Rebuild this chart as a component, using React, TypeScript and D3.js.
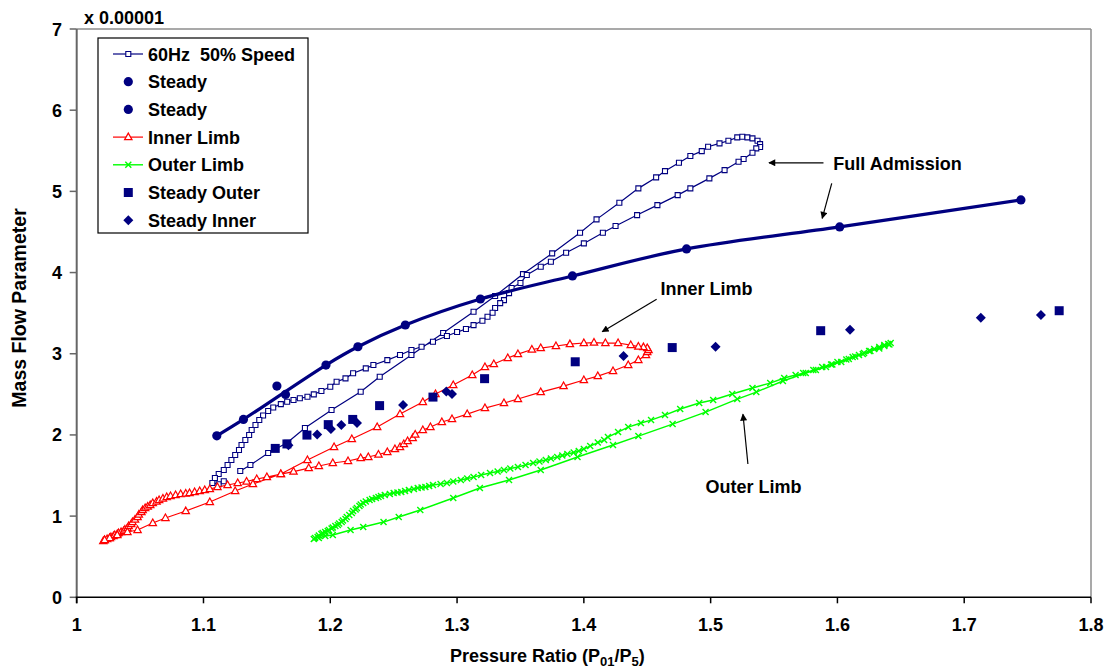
import React from 'react';
import * as d3 from 'd3';

type Pt = [number, number];

// Axis ticks
const xTicks = [1, 1.1, 1.2, 1.3, 1.4, 1.5, 1.6, 1.7, 1.8];
const yTicks = [0, 1, 2, 3, 4, 5, 6, 7];
const xTickLabels = ['1', '1.1', '1.2', '1.3', '1.4', '1.5', '1.6', '1.7', '1.8'];
const yTickLabels = ['0', '1', '2', '3', '4', '5', '6', '7'];

// 60Hz 50% speed pulsating-flow loop (full admission)
const loop60Hz: Pt[] = [
  [1.129, 1.555], [1.137, 1.629], [1.151, 1.777], [1.166, 1.904], [1.18, 2.085], [1.201, 2.307],
  [1.224, 2.532], [1.239, 2.717], [1.264, 2.984], [1.289, 3.255], [1.313, 3.517], [1.33, 3.711],
  [1.352, 3.981], [1.375, 4.236], [1.397, 4.49], [1.41, 4.655], [1.428, 4.86], [1.443, 5.037],
  [1.457, 5.172], [1.464, 5.25], [1.475, 5.352], [1.484, 5.435], [1.493, 5.496], [1.498, 5.549],
  [1.507, 5.591], [1.514, 5.623], [1.521, 5.665], [1.525, 5.672], [1.529, 5.665], [1.533, 5.653],
  [1.537, 5.623], [1.539, 5.582], [1.539, 5.546],
  [1.536, 5.529], [1.533, 5.475], [1.526, 5.398], [1.522, 5.364], [1.511, 5.262], [1.499, 5.16],
  [1.484, 5.037], [1.474, 4.954], [1.458, 4.831], [1.442, 4.708], [1.425, 4.573], [1.415, 4.49],
  [1.4, 4.359], [1.386, 4.244], [1.374, 4.133], [1.366, 4.071], [1.355, 3.969], [1.35, 3.871],
  [1.343, 3.809], [1.341, 3.747], [1.337, 3.661], [1.334, 3.624], [1.33, 3.563], [1.328, 3.505],
  [1.324, 3.456], [1.32, 3.406], [1.313, 3.353], [1.307, 3.304], [1.3, 3.267], [1.292, 3.218],
  [1.281, 3.148], [1.272, 3.086], [1.264, 3.046], [1.255, 2.984], [1.245, 2.922], [1.234, 2.861],
  [1.228, 2.82], [1.218, 2.759], [1.212, 2.697], [1.205, 2.655], [1.2, 2.594], [1.193, 2.541],
  [1.187, 2.5], [1.182, 2.47], [1.176, 2.451], [1.171, 2.43], [1.166, 2.409], [1.161, 2.38],
  [1.155, 2.337], [1.151, 2.294], [1.147, 2.239], [1.144, 2.183], [1.141, 2.122], [1.138, 2.06],
  [1.136, 1.999], [1.133, 1.937], [1.13, 1.876], [1.128, 1.814], [1.125, 1.752], [1.122, 1.691],
  [1.119, 1.629], [1.116, 1.568], [1.112, 1.518], [1.109, 1.469], [1.107, 1.408], [1.112, 1.392],
  [1.116, 1.429],
];

// Steady-flow full admission points (smoothed)
const steadyA: Pt[] = [
  [1.1105, 1.989], [1.1315, 2.191], [1.1966, 2.861], [1.2218, 3.086], [1.2592, 3.354],
  [1.3184, 3.674], [1.391, 3.958], [1.481, 4.291], [1.6018, 4.562], [1.7447, 4.895],
];
const steadyB: Pt[] = [[1.1579, 2.602], [1.1647, 2.499]];

// Inner limb pulsating-flow loop
const innerLimb: Pt[] = [
  [1.021, 0.693], [1.022, 0.706], [1.024, 0.718], [1.026, 0.731], [1.027, 0.743], [1.029, 0.755],
  [1.03, 0.767], [1.032, 0.78], [1.033, 0.792], [1.035, 0.804], [1.037, 0.816], [1.038, 0.835],
  [1.04, 0.853], [1.041, 0.878], [1.043, 0.903], [1.044, 0.927], [1.046, 0.958], [1.048, 0.989],
  [1.049, 1.02], [1.051, 1.05], [1.052, 1.075], [1.054, 1.1], [1.056, 1.118], [1.058, 1.137],
  [1.06, 1.161], [1.063, 1.18], [1.065, 1.198], [1.068, 1.217], [1.071, 1.235], [1.074, 1.248],
  [1.078, 1.26], [1.082, 1.272], [1.086, 1.278], [1.089, 1.284], [1.093, 1.297], [1.097, 1.309],
  [1.101, 1.321], [1.105, 1.334], [1.111, 1.358], [1.119, 1.383], [1.127, 1.408], [1.134, 1.426],
  [1.142, 1.457], [1.15, 1.481], [1.161, 1.518], [1.171, 1.549], [1.183, 1.592], [1.191, 1.617],
  [1.202, 1.654], [1.214, 1.679], [1.224, 1.715], [1.23, 1.728], [1.238, 1.759], [1.245, 1.789],
  [1.251, 1.826], [1.255, 1.851], [1.258, 1.888], [1.261, 1.925], [1.265, 1.962], [1.267, 2.005],
  [1.273, 2.06], [1.279, 2.097], [1.288, 2.159], [1.296, 2.196], [1.308, 2.257], [1.322, 2.331],
  [1.337, 2.393], [1.348, 2.442], [1.366, 2.528], [1.384, 2.602], [1.4, 2.676], [1.411, 2.725],
  [1.423, 2.787], [1.435, 2.861], [1.443, 2.922], [1.449, 2.984], [1.45, 3.021], [1.451, 3.046],
  [1.45, 3.07], [1.447, 3.082], [1.443, 3.089], [1.437, 3.107], [1.427, 3.132], [1.417, 3.132],
  [1.408, 3.138], [1.4, 3.132], [1.389, 3.119], [1.378, 3.095], [1.366, 3.07], [1.359, 3.052],
  [1.348, 2.996], [1.34, 2.947], [1.329, 2.873], [1.322, 2.836], [1.312, 2.738], [1.297, 2.614],
  [1.283, 2.504], [1.273, 2.405], [1.255, 2.257], [1.237, 2.097], [1.217, 1.949], [1.203, 1.851],
  [1.182, 1.691], [1.161, 1.518], [1.139, 1.395], [1.125, 1.309], [1.105, 1.174], [1.086, 1.063],
  [1.07, 0.977], [1.06, 0.915], [1.048, 0.829], [1.04, 0.804], [1.032, 0.767], [1.026, 0.731],
  [1.022, 0.706],
];

// Outer limb pulsating-flow loop
const outerLimb: Pt[] = [
  [1.187, 0.718], [1.188, 0.73], [1.19, 0.743], [1.191, 0.761], [1.193, 0.78], [1.194, 0.792],
  [1.196, 0.804], [1.198, 0.816], [1.199, 0.829], [1.201, 0.847], [1.202, 0.86], [1.204, 0.878],
  [1.206, 0.89], [1.207, 0.909], [1.209, 0.927], [1.21, 0.946], [1.212, 0.964], [1.213, 0.989],
  [1.215, 1.014], [1.217, 1.038], [1.218, 1.063], [1.22, 1.081], [1.221, 1.1], [1.223, 1.124],
  [1.224, 1.143], [1.226, 1.161], [1.228, 1.18], [1.231, 1.198], [1.233, 1.211], [1.236, 1.223],
  [1.238, 1.235], [1.24, 1.248], [1.243, 1.26], [1.247, 1.272], [1.25, 1.284], [1.253, 1.291],
  [1.256, 1.297], [1.259, 1.309], [1.262, 1.321], [1.266, 1.334], [1.269, 1.346], [1.272, 1.352],
  [1.275, 1.358], [1.278, 1.371], [1.281, 1.383], [1.287, 1.395], [1.292, 1.408], [1.297, 1.426],
  [1.303, 1.445], [1.308, 1.463], [1.313, 1.481], [1.319, 1.506], [1.326, 1.531], [1.332, 1.549],
  [1.337, 1.568], [1.342, 1.586], [1.348, 1.605], [1.354, 1.629], [1.36, 1.654], [1.365, 1.672],
  [1.37, 1.691], [1.374, 1.709], [1.379, 1.728], [1.383, 1.746], [1.387, 1.765], [1.392, 1.783],
  [1.396, 1.802], [1.4, 1.826], [1.405, 1.863], [1.411, 1.906], [1.416, 1.937], [1.419, 1.974],
  [1.427, 2.036], [1.435, 2.097], [1.445, 2.147], [1.453, 2.183], [1.464, 2.245], [1.476, 2.319],
  [1.491, 2.393], [1.502, 2.43], [1.517, 2.504], [1.533, 2.578], [1.547, 2.639], [1.558, 2.701],
  [1.567, 2.738], [1.573, 2.762], [1.581, 2.799], [1.588, 2.836], [1.595, 2.867], [1.6, 2.898],
  [1.607, 2.929], [1.612, 2.959], [1.617, 2.984], [1.621, 3.009], [1.625, 3.033], [1.629, 3.058],
  [1.633, 3.082], [1.637, 3.107], [1.64, 3.119], [1.642, 3.132],
  [1.641, 3.113], [1.637, 3.095], [1.633, 3.064], [1.626, 3.033], [1.62, 2.996], [1.614, 2.965],
  [1.609, 2.935], [1.603, 2.898], [1.596, 2.867], [1.591, 2.836], [1.583, 2.799], [1.575, 2.762],
  [1.557, 2.664], [1.536, 2.528], [1.521, 2.442], [1.496, 2.282], [1.47, 2.134], [1.443, 1.986],
  [1.423, 1.876], [1.395, 1.728], [1.366, 1.568], [1.341, 1.445], [1.318, 1.346], [1.297, 1.223],
  [1.271, 1.075], [1.254, 0.989], [1.242, 0.927], [1.226, 0.866], [1.216, 0.829], [1.202, 0.767],
  [1.196, 0.755], [1.191, 0.73],
];

// Steady-flow single-limb points
const steadyOuter: Pt[] = [
  [1.1566, 1.834], [1.1658, 1.889], [1.1816, 1.998], [1.1984, 2.127], [1.2177, 2.191],
  [1.2389, 2.361], [1.281, 2.466], [1.3217, 2.693], [1.3932, 2.901], [1.4697, 3.076],
  [1.5868, 3.284], [1.7749, 3.53],
];
const steadyInner: Pt[] = [
  [1.167, 1.874], [1.1897, 2.006], [1.2005, 2.072], [1.2087, 2.121], [1.2211, 2.146],
  [1.2574, 2.368], [1.2915, 2.534], [1.296, 2.503], [1.4313, 2.972], [1.5039, 3.086],
  [1.6099, 3.296], [1.7131, 3.444], [1.7605, 3.477],
];

const legendLabels = ['60Hz  50% Speed', 'Steady', 'Steady', 'Inner Limb', 'Outer Limb', 'Steady Outer', 'Steady Inner'];

const NAVY = '#000080';
const RED = '#ff0000';
const GREEN = '#00ff00';
const FONT = '"Liberation Sans", Arial, Helvetica, sans-serif';

const W = 1110;
const H = 672;
const plot = { left: 76.7, right: 1091, top: 29, bottom: 597.3 };

const square = (cx: number, cy: number, s: number) =>
  `M${cx - s / 2},${cy - s / 2}h${s}v${s}h${-s}Z`;
const triangle = (cx: number, cy: number) =>
  `M${cx},${cy - 4}L${cx + 3.7},${cy + 2.6}L${cx - 3.7},${cy + 2.6}Z`;
const cross = (cx: number, cy: number) =>
  `M${cx - 3},${cy - 3}L${cx + 3},${cy + 3}M${cx - 3},${cy + 3}L${cx + 3},${cy - 3}`;
const diamond = (cx: number, cy: number) =>
  `M${cx},${cy - 5}L${cx + 5},${cy}L${cx},${cy + 5}L${cx - 5},${cy}Z`;

export default function App() {
  const x = d3.scaleLinear().domain([1, 1.8]).range([plot.left, plot.right]);
  const y = d3.scaleLinear().domain([0, 7]).range([plot.bottom, plot.top]);
  const line = d3.line<Pt>().x((d) => x(d[0])).y((d) => y(d[1]));
  const smooth = d3
    .line<Pt>()
    .x((d) => x(d[0]))
    .y((d) => y(d[1]))
    .curve(d3.curveCatmullRom.alpha(0.5));

  // Annotation anchors in data space
  const ann = {
    full: { tx: 1.5968, ty: 5.349, a1: [[1.589, 5.352], [1.546, 5.352]], a2: [[1.5955, 5.099], [1.588, 4.668]] },
    inner: { tx: 1.4605, ty: 3.809, a1: [[1.4574, 3.67], [1.4145, 3.271]] },
    outer: { tx: 1.496, ty: 1.362, a1: [[1.5294, 1.642], [1.5255, 2.254]] },
  };
  const arrow = (seg: number[][], key: string) => (
    <line
      key={key}
      x1={x(seg[0][0])}
      y1={y(seg[0][1])}
      x2={x(seg[1][0])}
      y2={y(seg[1][1])}
      stroke="#000"
      strokeWidth={1.2}
      markerEnd="url(#arrowHead)"
    />
  );

  const legend = { x: 98, y: 38, w: 210, h: 195, rowY: 54, rowH: 27.7, mx: 128.3, tx: 148 };

  return (
    <svg
      width={W}
      height={H}
      viewBox={`0 0 ${W} ${H}`}
      style={{ position: 'absolute', left: 0, top: 0, background: '#fff' }}
      fontFamily={FONT}
      fontWeight="bold"
    >
      <defs>
        <marker id="arrowHead" viewBox="0 0 10 10" refX="9" refY="5" markerWidth="9" markerHeight="7" markerUnits="userSpaceOnUse" orient="auto">
          <path d="M0,0L10,5L0,10Z" fill="#000" />
        </marker>
        <clipPath id="plotClip">
          <rect x={plot.left} y={plot.top} width={plot.right - plot.left} height={plot.bottom - plot.top} />
        </clipPath>
      </defs>
      <rect width={W} height={H} fill="#fff" />

      {/* plot frame */}
      <line x1={plot.left} x2={plot.right} y1={plot.top} y2={plot.top} stroke="#8c8c8c" strokeWidth={1.5} />
      <line x1={plot.right} x2={plot.right} y1={plot.top} y2={plot.bottom} stroke="#8c8c8c" strokeWidth={1.5} />

      {/* y axis */}
      <line x1={plot.left} x2={plot.left} y1={plot.top} y2={plot.bottom + 6} stroke="#666" strokeWidth={2} />
      {yTicks.map((t, i) => (
        <g key={`yt${t}`}>
          <line x1={plot.left - 7} x2={plot.left} y1={y(t)} y2={y(t)} stroke="#666" strokeWidth={1.5} />
          <text x={62} y={y(t) + 6.5} textAnchor="end" fontSize={18} fill="#000">
            {yTickLabels[i]}
          </text>
        </g>
      ))}
      <text x={84} y={24.3} fontSize={18} fill="#000">x 0.00001</text>
      <text transform={`translate(26,308) rotate(-90)`} textAnchor="middle" fontSize={19.5} fill="#000">
        Mass Flow Parameter
      </text>

      {/* x axis */}
      <line x1={plot.left - 1} x2={plot.right} y1={plot.bottom} y2={plot.bottom} stroke="#000" strokeWidth={1.5} />
      {xTicks.map((t, i) => (
        <g key={`xt${t}`}>
          <line x1={x(t)} x2={x(t)} y1={plot.bottom} y2={plot.bottom + 6} stroke="#000" strokeWidth={1.5} />
          <text x={x(t)} y={631} textAnchor="middle" fontSize={18} fill="#000">
            {xTickLabels[i]}
          </text>
        </g>
      ))}
      <text x={450} y={662} fontSize={18} fill="#000">
        Pressure Ratio (P
        <tspan fontSize={13} dy={4}>01</tspan>
        <tspan dy={-4}>/P</tspan>
        <tspan fontSize={13} dy={4}>5</tspan>
        <tspan dy={-4}>)</tspan>
      </text>

      <g clipPath="url(#plotClip)">
        {/* 60Hz loop */}
        <path d={line(loop60Hz) || ''} fill="none" stroke={NAVY} strokeWidth={1.2} />
        {loop60Hz.map((d, i) => (
          <path key={`s${i}`} d={square(x(d[0]), y(d[1]), 5)} fill="#fff" stroke={NAVY} strokeWidth={1.1} />
        ))}

        {/* steady full admission */}
        <path d={smooth(steadyA) || ''} fill="none" stroke={NAVY} strokeWidth={3.2} />
        {steadyA.map((d, i) => (
          <circle key={`ca${i}`} cx={x(d[0])} cy={y(d[1])} r={4.6} fill={NAVY} />
        ))}
        {steadyB.map((d, i) => (
          <circle key={`cb${i}`} cx={x(d[0])} cy={y(d[1])} r={4.6} fill={NAVY} />
        ))}

        {/* inner limb */}
        <path d={line(innerLimb) || ''} fill="none" stroke={RED} strokeWidth={1.2} />
        {innerLimb.map((d, i) => (
          <path key={`t${i}`} d={triangle(x(d[0]), y(d[1]))} fill="#fff" stroke={RED} strokeWidth={1.2} />
        ))}

        {/* outer limb */}
        <path d={line(outerLimb) || ''} fill="none" stroke={GREEN} strokeWidth={1.4} />
        {outerLimb.map((d, i) => (
          <path key={`x${i}`} d={cross(x(d[0]), y(d[1]))} fill="none" stroke={GREEN} strokeWidth={1.4} />
        ))}

        {/* steady outer / inner */}
        {steadyOuter.map((d, i) => (
          <path key={`so${i}`} d={square(x(d[0]), y(d[1]), 9)} fill={NAVY} />
        ))}
        {steadyInner.map((d, i) => (
          <path key={`si${i}`} d={diamond(x(d[0]), y(d[1]))} fill={NAVY} />
        ))}
      </g>

      {/* annotations */}
      <text x={x(ann.full.tx)} y={y(ann.full.ty) + 6.5} fontSize={18} fill="#000">Full Admission</text>
      {arrow(ann.full.a1, 'fa1')}
      {arrow(ann.full.a2, 'fa2')}
      <text x={x(ann.inner.tx)} y={y(ann.inner.ty) + 6.5} fontSize={18} fill="#000">Inner Limb</text>
      {arrow(ann.inner.a1, 'ia1')}
      <text x={x(ann.outer.tx)} y={y(ann.outer.ty) + 6.5} fontSize={18} fill="#000">Outer Limb</text>
      {arrow(ann.outer.a1, 'oa1')}

      {/* legend */}
      <rect x={legend.x} y={legend.y} width={legend.w} height={legend.h} fill="#fff" stroke="#000" strokeWidth={1.2} />
      {legendLabels.map((label, i) => {
        const cy = legend.rowY + i * legend.rowH;
        const mx = legend.mx;
        let sym: React.ReactNode = null;
        if (i === 0) {
          sym = (
            <g>
              <line x1={113} x2={143} y1={cy} y2={cy} stroke={NAVY} strokeWidth={1.2} />
              <path d={square(mx, cy, 5)} fill="#fff" stroke={NAVY} strokeWidth={1.1} />
            </g>
          );
        } else if (i === 1 || i === 2) {
          sym = <circle cx={mx} cy={cy} r={4.6} fill={NAVY} />;
        } else if (i === 3) {
          sym = (
            <g>
              <line x1={113} x2={143} y1={cy} y2={cy} stroke={RED} strokeWidth={1.2} />
              <path d={triangle(mx, cy)} fill="#fff" stroke={RED} strokeWidth={1.2} />
            </g>
          );
        } else if (i === 4) {
          sym = (
            <g>
              <line x1={113} x2={143} y1={cy} y2={cy} stroke={GREEN} strokeWidth={1.4} />
              <path d={cross(mx, cy)} fill="none" stroke={GREEN} strokeWidth={1.4} />
            </g>
          );
        } else if (i === 5) {
          sym = <path d={square(mx, cy, 9)} fill={NAVY} />;
        } else {
          sym = <path d={diamond(mx, cy)} fill={NAVY} />;
        }
        return (
          <g key={`lg${i}`}>
            {sym}
            <text x={legend.tx} y={cy + 6.5} fontSize={18} fill="#000" style={{ whiteSpace: 'pre' }}>
              {label}
            </text>
          </g>
        );
      })}
    </svg>
  );
}
